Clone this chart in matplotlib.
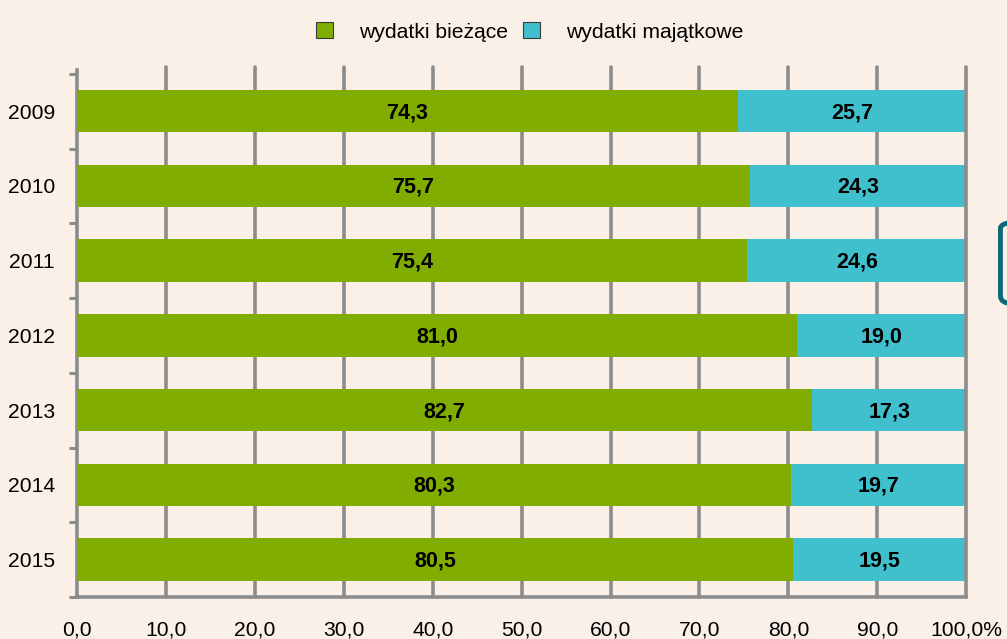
import matplotlib.pyplot as plt
from matplotlib.patches import FancyBboxPatch

years = ['2009', '2010', '2011', '2012', '2013', '2014', '2015']
biezace = [74.3, 75.7, 75.4, 81.0, 82.7, 80.3, 80.5]
majatkowe = [25.7, 24.3, 24.6, 19.0, 17.3, 19.7, 19.5]
xticks = [0, 10, 20, 30, 40, 50, 60, 70, 80, 90, 100]
xlabels = ['0,0', '10,0', '20,0', '30,0', '40,0', '50,0', '60,0', '70,0', '80,0', '90,0', '100,0%']

bg = '#FAF0E8'
green = '#80AD00'
cyan = '#40C0CC'
gray = '#8C8C8C'

plt.rcParams['font.family'] = ['Liberation Sans', 'DejaVu Sans']

fig = plt.figure(figsize=(10.07, 6.39), dpi=100, facecolor=bg)
ax = fig.add_axes([0.0765, 0.0657, 0.883, 0.8247], facecolor=bg)

pos = list(range(len(years)))
b1 = ax.barh(pos, biezace, height=0.57, color=green, label='wydatki bieżące', zorder=3)
b2 = ax.barh(pos, majatkowe, left=biezace, height=0.57, color=cyan, label='wydatki majątkowe', zorder=3)

for i in pos:
    ax.text(biezace[i] / 2, i + 0.02, f'{biezace[i]:.1f}'.replace('.', ','), ha='center', va='center',
            fontsize=15.5, fontweight='bold', zorder=4)
    ax.text(biezace[i] + majatkowe[i] / 2, i + 0.02, f'{majatkowe[i]:.1f}'.replace('.', ','),
            ha='center', va='center', fontsize=15.5, fontweight='bold', zorder=4)

ax.set_xlim(0, 100)
ax.set_ylim(6.5, -0.55)
ax.set_xticks(xticks)
ax.set_xticklabels(xlabels, fontsize=15.2)
ax.set_yticks(pos)
ax.set_yticklabels(years, fontsize=15.2)
ax.set_yticks([p - 0.5 for p in pos] + [6.5], minor=True)
ax.tick_params(axis='y', which='major', length=0, pad=16)
ax.tick_params(axis='y', which='minor', length=6, width=2.2, color=gray)
ax.tick_params(axis='x', length=0, pad=17)

for x in xticks[1:]:
    ax.axvline(x, ymax=1.006, color=gray, lw=2.6, zorder=3.5 if x == 100 else 1,
               solid_capstyle='round', clip_on=False)
for s in ['top', 'right']:
    ax.spines[s].set_visible(False)
for s in ['left', 'bottom']:
    ax.spines[s].set_color(gray)
    ax.spines[s].set_linewidth(2.6)
ax.spines['bottom'].set_zorder(5)

fig.legend(handles=[b1, b2], loc='upper center', bbox_to_anchor=(0.526, 0.995), ncol=2,
           frameon=False, fontsize=15.2, handlelength=0.8, handleheight=0.8,
           handletextpad=1.2, columnspacing=0.75)
for h in fig.legends[0].legend_handles:
    h.set_edgecolor('#3a3a3a')
    h.set_linewidth(0.8)

box = FancyBboxPatch((0.9935, 0.525), 0.05, 0.13, boxstyle='round,pad=0,rounding_size=0.012',
                     transform=fig.transFigure, facecolor='none', edgecolor='#0E6A78', lw=3.5)
fig.patches.append(box)

fig.savefig('out.png', facecolor=bg)
